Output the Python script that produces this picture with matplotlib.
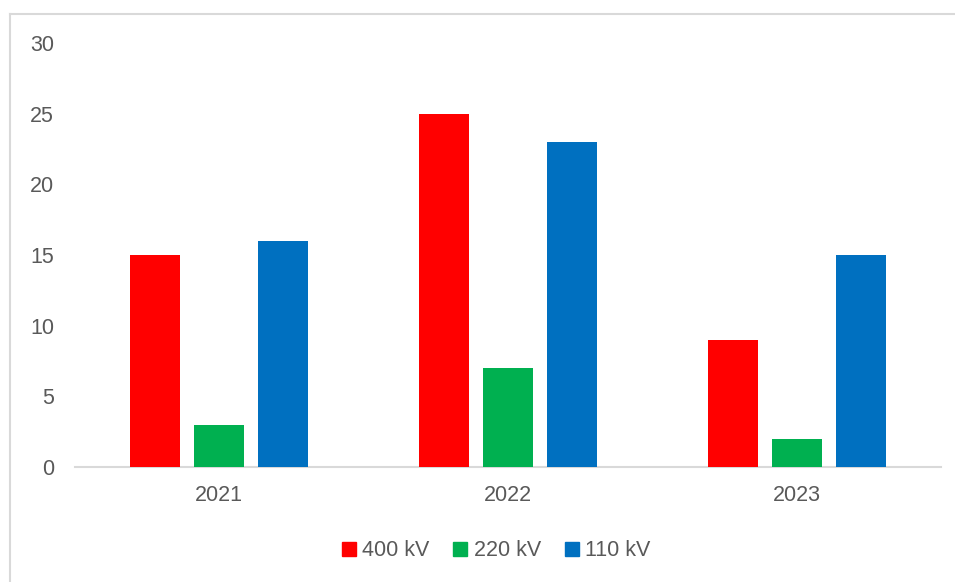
import matplotlib.pyplot as plt
import numpy as np
from matplotlib.patches import Rectangle
from matplotlib.lines import Line2D

years = ["2021", "2022", "2023"]
series_names = ["400 kV", "220 kV", "110 kV"]
v400 = [15, 25, 9]
v220 = [3, 7, 2]
v110 = [16, 23, 15]
colors = ["#FF0000", "#00B050", "#0070C0"]

plt.rcParams['font.family'] = ['Liberation Sans', 'DejaVu Sans']
text_color = "#595959"
grid_color = "#D9D9D9"
fs = 15.5

W, H = 955, 582
fig = plt.figure(figsize=(W / 100, H / 100), dpi=100)

# chart frame (open at right and bottom)
fig.add_artist(Line2D([10 / W, 10 / W], [0, 1 - 14 / H], transform=fig.transFigure,
                      color=grid_color, lw=1.5))
fig.add_artist(Line2D([10 / W, 1], [1 - 14 / H, 1 - 14 / H], transform=fig.transFigure,
                      color=grid_color, lw=1.5))

ax = fig.add_axes([75 / W, 1 - 467 / H, (941 - 75) / W, (467 - 43) / H])

x = np.arange(len(years))
bw = 0.173
step = 0.222
for i, (vals, name) in enumerate(zip([v400, v220, v110], series_names)):
    ax.bar(x + (i - 1) * step, vals, width=bw, color=colors[i], label=name, zorder=3)

ax.set_xlim(-0.5, len(years) - 0.5)
ax.set_ylim(0, 30)
ax.set_yticks(range(0, 31, 5))
ax.set_xticks(x)
ax.set_xticklabels(years)
for s in ["top", "right", "left"]:
    ax.spines[s].set_visible(False)
ax.spines["bottom"].set_color(grid_color)
ax.spines["bottom"].set_linewidth(1.5)
ax.tick_params(axis="both", length=0, colors=text_color, labelsize=fs)
ax.tick_params(axis="y", pad=15)
ax.tick_params(axis="x", pad=13)

handles = [Rectangle((0, 0), 1, 1, color=c) for c in colors]
fig.legend(handles, series_names, loc="center", bbox_to_anchor=(496 / W, 1 - 551 / H),
           ncol=3, frameon=False, fontsize=fs, handlelength=0.65, handleheight=0.65,
           handletextpad=0.3, columnspacing=1.1, labelcolor=text_color)

fig.savefig("out.png", dpi=100)
